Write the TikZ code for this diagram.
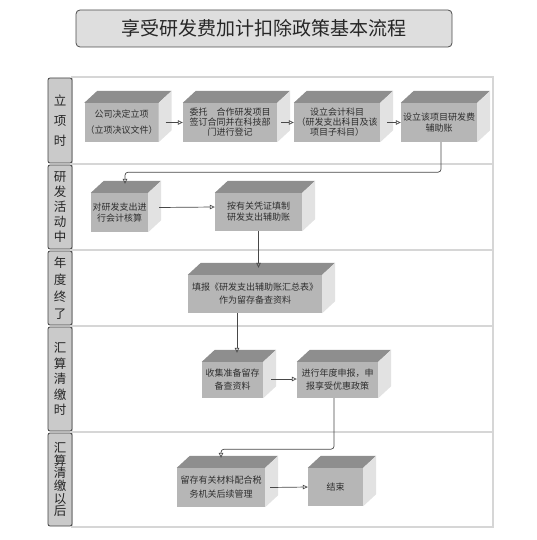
\documentclass[tikz,border=0pt]{standalone}
\usepackage{fontspec}
\setmainfont{Noto Sans CJK SC}
\usetikzlibrary{positioning,arrows.meta,calc}
\definecolor{frontgray}{RGB}{182,182,182}
\definecolor{topgray}{RGB}{142,142,142}
\definecolor{sidegray}{RGB}{226,226,226}
\definecolor{lanegray}{RGB}{214,214,214}
\definecolor{labelgray}{RGB}{202,202,202}
\definecolor{titlegray}{RGB}{222,222,222}
\definecolor{linegray}{RGB}{72,72,72}

\begin{document}
\begin{tikzpicture}[x=1pt,y=-1pt,
		title_box/.style={draw=black!70,fill=titlegray,rounded corners=4pt,line width=0.8pt,minimum width=376pt,minimum height=37pt,font=\fontsize{19}{22}\selectfont,text=black!85},
		lane_label/.style={draw=black!75,fill=labelgray,rounded corners=2pt,line width=0.8pt,minimum width=24pt,inner sep=0pt,align=center,text=black!85},
		lane_line/.style={lanegray,line width=1.2pt},
		box_front/.style={rectangle,fill=frontgray,inner sep=1pt,align=center,font=\fontsize{9}{11}\selectfont,text=black!82},
		top_face/.style={fill=topgray},
		side_face/.style={fill=sidegray},
		flow/.style={draw=linegray,line width=0.7pt,-{Triangle[open,length=5pt,width=4.5pt]}}
		]
		\useasboundingbox (0,0) rectangle (536,540);
		
		\node[title_box] (title) at (264,28.5) {享受研发费加计扣除政策基本流程};
		
		% lanes
		\draw[lane_line] (72,77) rectangle (493,527);
		\foreach \y in {164,250,326,432} \draw[lane_line] (72,\y) -- (493,\y);
		\node[lane_label,minimum height=85pt,font=\fontsize{12.5}{20}\selectfont] (lane1) at (60,120.5) {立\\项\\时};
		\node[lane_label,minimum height=84pt,font=\fontsize{12.5}{15}\selectfont] (lane2) at (60,207) {研\\发\\活\\动\\中};
		\node[lane_label,minimum height=74pt,font=\fontsize{12.5}{17}\selectfont] (lane3) at (60,288) {年\\度\\终\\了};
		\node[lane_label,minimum height=104pt,font=\fontsize{12.5}{15.5}\selectfont] (lane4) at (60,379) {汇\\算\\清\\缴\\时};
		\node[lane_label,minimum height=93pt,font=\fontsize{12.5}{12.6}\selectfont] (lane5) at (60,479.5) {汇\\算\\清\\缴\\以\\后};
		
		% front faces
		\node[box_front,minimum width=73pt,minimum height=39pt,font=\fontsize{9}{16}\selectfont] (b1) at (121.5,122.5) {公司决定立项\\（立项决议文件）};
		\node[box_front,minimum width=94pt,minimum height=39pt,font=\fontsize{9}{10}\selectfont] (b2) at (230,122.5) {委托　合作研发项目\\签订合同并在科技部\\门进行登记};
		\node[box_front,minimum width=86pt,minimum height=39pt,font=\fontsize{9}{10}\selectfont] (b3) at (337,122.5) {设立会计科目\\（研发支出科目及该\\项目子科目）};
		\node[box_front,minimum width=76pt,minimum height=39pt] (b4) at (439,122.5) {设立该项目研发费\\辅助账};
		\node[box_front,minimum width=57pt,minimum height=39pt] (b5) at (119.5,212.5) {对研发支出进\\行会计核算};
		\node[box_front,minimum width=87pt,minimum height=38pt] (b6) at (258.5,212) {按有关凭证填制\\研发支出辅助账};
		\node[box_front,minimum width=134pt,minimum height=38pt,font=\fontsize{9}{13}\selectfont] (b7) at (255,294) {填报《研发支出辅助账汇总表》\\作为留存备查资料};
		\node[box_front,minimum width=61pt,minimum height=36pt,font=\fontsize{9}{13}\selectfont] (b8) at (232.5,380) {收集准备留存\\备查资料};
		\node[box_front,minimum width=81pt,minimum height=36pt,font=\fontsize{9}{13}\selectfont] (b9) at (337.5,380) {进行年度申报，申\\报享受优惠政策};
		\node[box_front,minimum width=88pt,minimum height=39pt,font=\fontsize{9}{14}\selectfont] (b10) at (221,487.5) {留存有关材料配合税\\务机关后续管理};
		\node[box_front,minimum width=55pt,minimum height=38pt] (b11) at (335.5,487) {结束};
		
		% top and side faces
		\foreach \b in {b1,b2,b3,b4,b5,b6,b7,b8,b9,b10,b11} {
			\fill[top_face] (\b.north west) -- ++(13,-12) -- ($(\b.north east)+(13,-12)$) -- (\b.north east) -- cycle;
			\fill[side_face] (\b.north east) -- ++(13,-12) -- ($(\b.south east)+(13,-12)$) -- (\b.south east) -- cycle;
		}
		
		\coordinate (b5_top) at ($(b5.north)+(5.5,-9)$);
		\coordinate (b7_top) at ($(b7.north)+(3.5,-7)$);
		\coordinate (b8_top) at ($(b8.north)+(4.5,-9)$);
		\coordinate (b10_top) at ($(b10.north)+(0,-10)$);
		
		\draw[flow] ([xshift=7pt]b1.east) -- (b2.west);
		\draw[flow] ([xshift=4pt]b2.east) -- (b3.west);
		\draw[flow] ([xshift=7pt]b3.east) -- (b4.west);
		\draw[flow,rounded corners=3pt] ([xshift=2pt]b4.south) -- ++(0,30) -| (b5_top);
		\draw[flow] ([xshift=11pt,yshift=5pt]b5.east) -- ([yshift=5pt]b6.west);
		\draw[flow] (b7_top |- b6.south) -- (b7_top);
		\draw[flow] (b8_top |- b7.south) -- (b8_top);
		\draw[flow] ([xshift=8pt,yshift=1pt]b8.east) -- ([yshift=1pt]b9.west);
		\draw[flow,rounded corners=3pt] ([xshift=-3.5pt]b9.south) -- ++(0,51) -| (b10_top);
		\draw[flow] ([xshift=5pt]b10.east) -- (b11.west);
	\end{tikzpicture}
\end{document}
